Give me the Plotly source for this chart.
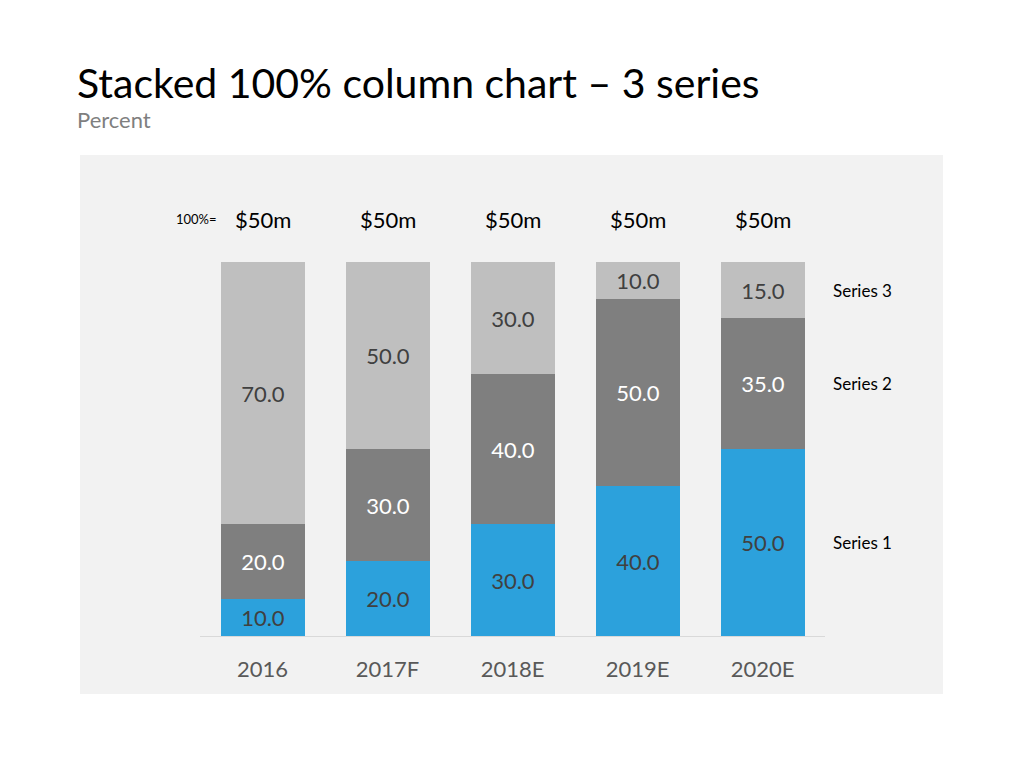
import plotly.graph_objects as go

categories = ["2016", "2017F", "2018E", "2019E", "2020E"]
series1 = [10.0, 20.0, 30.0, 40.0, 50.0]
series2 = [20.0, 30.0, 40.0, 50.0, 35.0]
series3 = [70.0, 50.0, 30.0, 10.0, 15.0]
totals = ["$50m", "$50m", "$50m", "$50m", "$50m"]
series_names = ["Series 1", "Series 2", "Series 3"]

FONT = "Lato"
colors = ["#2CA1DC", "#7F7F7F", "#BFBFBF"]
text_colors = ["#404040", "#FFFFFF", "#404040"]

fig = go.Figure()
for name, vals, c, tc in zip(series_names, [series1, series2, series3], colors, text_colors):
    fig.add_trace(go.Bar(
        x=categories, y=vals, name=name, marker=dict(color=c, line=dict(width=0)),
        width=0.672, texttemplate="%{y:.1f}", textposition="inside",
        insidetextanchor="middle", textangle=0, constraintext="none",
        textfont=dict(family=FONT, size=22, color=tc),
    ))

annotations = []
# Title & subtitle
annotations.append(dict(text="Stacked 100% column chart – 3 series", xref="paper", yref="paper",
                        x=-0.2, y=1.481, xanchor="left", yanchor="middle", showarrow=False,
                        font=dict(family=FONT, size=41, color="#000000")))
annotations.append(dict(text="Percent", xref="paper", yref="paper",
                        x=-0.2, y=1.382, xanchor="left", yanchor="middle", showarrow=False,
                        font=dict(family=FONT, size=22, color="#7F7F7F")))
# Totals (category index positions on the x axis)
for i, t in enumerate(totals):
    annotations.append(dict(text=t, x=i, y=1.1123, xref="x", yref="paper", showarrow=False,
                            xanchor="center", yanchor="middle",
                            font=dict(family=FONT, size=22, color="#000000")))
annotations.append(dict(text="100%=", xref="paper", yref="paper", x=0.03, y=1.115, showarrow=False,
                        xanchor="right", yanchor="middle",
                        font=dict(family=FONT, size=13, color="#000000")))
# Series labels next to the last bar
last = [series1[-1], series2[-1], series3[-1]]
base = 0
for name, v in zip(series_names, last):
    annotations.append(dict(text=name, xref="paper", yref="y", x=1.0095, y=base + v / 2,
                            showarrow=False, xanchor="left", yanchor="middle",
                            font=dict(family=FONT, size=17, color="#000000")))
    base += v

fig.update_layout(
    width=1024, height=768,
    margin=dict(l=200, r=199, t=262, b=132),
    barmode="stack", bargap=0,
    showlegend=False,
    paper_bgcolor="#FFFFFF", plot_bgcolor="rgba(0,0,0,0)",
    annotations=annotations,
    shapes=[dict(type="rect", xref="paper", yref="paper", x0=-0.192, x1=1.1888,
                 y0=-0.155, y1=1.286, fillcolor="#F2F2F2", line=dict(width=0), layer="below")],
    xaxis=dict(type="category", range=[-0.5, 4.5], showgrid=False, zeroline=False, showline=True,
               linecolor="#D9D9D9", linewidth=1, ticks="", ticklabelstandoff=14,
               tickfont=dict(family=FONT, size=22, color="#595959")),
    yaxis=dict(range=[0, 100], visible=False, showgrid=False, zeroline=False),
)

fig.write_html("out.html")
